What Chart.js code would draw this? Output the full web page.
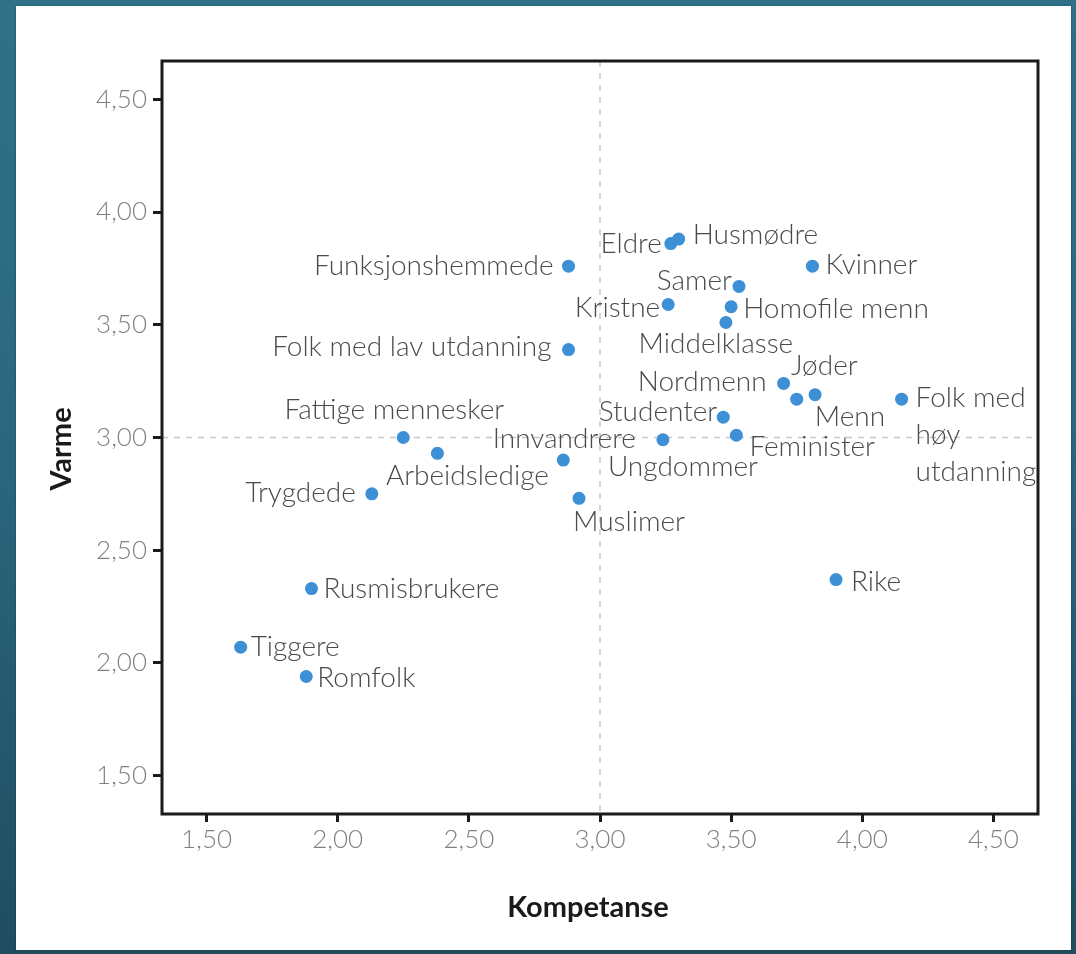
<!DOCTYPE html>
<html>
<head>
<meta charset="utf-8">
<script src="https://cdn.jsdelivr.net/npm/chart.js@4/dist/chart.umd.min.js"></script>
<style>
  html, body { margin: 0; padding: 0; }
  body {
    width: 1076px; height: 954px; overflow: hidden; position: relative;
    background: linear-gradient(to bottom, #2f7189 0%, #2a6880 45%, #1f4d61 100%);
  }
  .card {
    position: absolute; left: 16px; top: 6px; width: 1055px; height: 944px;
    background: #fff; box-shadow: 0 0 2px rgba(0,0,0,0.35);
  }
  #chart { position: absolute; left: 0; top: 0; }
</style>
</head>
<body>
<div class="card"></div>
<canvas id="chart" width="1076" height="954"></canvas>
<script>
  // Data
  const groups = [
    'Funksjonshemmede', 'Folk med lav utdanning', 'Eldre', 'Husmødre', 'Kvinner',
    'Samer', 'Kristne', 'Homofile menn', 'Middelklasse', 'Nordmenn', 'Jøder', 'Menn',
    'Folk med høy utdanning', 'Studenter', 'Feminister', 'Innvandrere', 'Ungdommer',
    'Muslimer', 'Fattige mennesker', 'Arbeidsledige', 'Trygdede', 'Rusmisbrukere',
    'Tiggere', 'Romfolk', 'Rike'
  ];
  const kompetanse = [
    2.88, 2.88, 3.27, 3.30, 3.81,
    3.53, 3.26, 3.50, 3.48, 3.70, 3.82, 3.75,
    4.15, 3.47, 3.52, 2.86, 3.24,
    2.92, 2.25, 2.38, 2.13, 1.90,
    1.63, 1.88, 3.90
  ];
  const varme = [
    3.76, 3.39, 3.86, 3.88, 3.76,
    3.67, 3.59, 3.58, 3.51, 3.24, 3.19, 3.17,
    3.17, 3.09, 3.01, 2.90, 2.99,
    2.73, 3.00, 2.93, 2.75, 2.33,
    2.07, 1.94, 2.37
  ];
  const tickValues = [1.5, 2.0, 2.5, 3.0, 3.5, 4.0, 4.5];
  const axisMin = 1.33, axisMax = 4.67;
  const refValue = 3.0;

  // Where each label sits relative to its dot
  const labelPlacement = {
    'Funksjonshemmede':       { align: 'right',  dx: -15, dy: 0 },
    'Folk med lav utdanning': { align: 'right',  dx: -17, dy: -3 },
    'Eldre':                  { align: 'right',  dx: -9,  dy: 0 },
    'Husmødre':               { align: 'left',   dx: 14,  dy: -4 },
    'Kvinner':                { align: 'left',   dx: 13,  dy: -1 },
    'Samer':                  { align: 'right',  dx: -7,  dy: -5 },
    'Kristne':                { align: 'right',  dx: -8,  dy: 3 },
    'Homofile menn':          { align: 'left',   dx: 12,  dy: 2 },
    'Middelklasse':           { align: 'center', dx: -10, dy: 21 },
    'Nordmenn':               { align: 'right',  dx: -17, dy: -1 },
    'Jøder':                  { align: 'left',   dx: -24, dy: -29 },
    'Menn':                   { align: 'left',   dx: 18,  dy: 18 },
    'Folk med høy utdanning': { align: 'left',   dx: 14,  dy: -1, lines: ['Folk med', 'høy', 'utdanning'] },
    'Studenter':              { align: 'right',  dx: -6,  dy: -5 },
    'Feminister':             { align: 'left',   dx: 13,  dy: 12 },
    'Innvandrere':            { align: 'center', dx: 1,   dy: -21 },
    'Ungdommer':              { align: 'center', dx: 20,  dy: 27 },
    'Muslimer':               { align: 'left',   dx: -6,  dy: 24 },
    'Fattige mennesker':      { align: 'center', dx: -9,  dy: -28 },
    'Arbeidsledige':          { align: 'center', dx: 30,  dy: 23 },
    'Trygdede':               { align: 'right',  dx: -16, dy: -1 },
    'Rusmisbrukere':          { align: 'left',   dx: 12,  dy: 0 },
    'Tiggere':                { align: 'left',   dx: 10,  dy: 0 },
    'Romfolk':                { align: 'left',   dx: 11,  dy: 1 },
    'Rike':                   { align: 'left',   dx: 15,  dy: 2 }
  };

  const LABEL_FONT = '300 28px Lato';
  const fmt = v => v.toFixed(2).replace('.', ',');

  // Frame, dashed reference lines and axis titles
  const framePlugin = {
    id: 'frame',
    beforeDatasetsDraw(chart) {
      const { ctx, chartArea: a, scales } = chart;
      const xr = scales.x.getPixelForValue(refValue);
      const yr = scales.y.getPixelForValue(refValue);
      ctx.save();
      ctx.strokeStyle = '#c8c8c8';
      ctx.lineWidth = 1.5;
      ctx.setLineDash([6, 6]);
      ctx.beginPath();
      ctx.moveTo(xr, a.top); ctx.lineTo(xr, a.bottom);
      ctx.moveTo(a.left, yr); ctx.lineTo(a.right, yr);
      ctx.stroke();
      ctx.setLineDash([]);
      ctx.strokeStyle = '#1a1a1a';
      ctx.lineWidth = 3;
      ctx.strokeRect(a.left, a.top, a.right - a.left, a.bottom - a.top);
      ctx.restore();
    },
    afterDraw(chart) {
      const { ctx } = chart;
      ctx.save();
      ctx.fillStyle = '#1a1a1a';
      ctx.font = '700 29px Lato';
      ctx.textAlign = 'center';
      ctx.textBaseline = 'middle';
      ctx.fillText('Kompetanse', 588, 908);
      ctx.translate(62, 449);
      ctx.rotate(-Math.PI / 2);
      ctx.fillText('Varme', 0, 0);
      ctx.restore();
    }
  };

  // Text labels next to the dots
  const labelPlugin = {
    id: 'pointLabels',
    afterDatasetsDraw(chart) {
      const { ctx } = chart;
      const meta = chart.getDatasetMeta(0);
      ctx.save();
      ctx.font = LABEL_FONT;
      ctx.fillStyle = '#4a4a4a';
      ctx.textBaseline = 'middle';
      meta.data.forEach((pt, i) => {
        const name = groups[i];
        const p = labelPlacement[name] || { align: 'left', dx: 12, dy: 0 };
        const lines = p.lines || [name];
        ctx.textAlign = p.align;
        lines.forEach((ln, j) => {
          ctx.fillText(ln, pt.x + p.dx, pt.y + p.dy + j * 37);
        });
      });
      ctx.restore();
    }
  };

  const tickOpts = {
    color: '#808080',
    font: { family: 'Lato', size: 26, weight: '300' },
    callback: v => fmt(v)
  };

  new Chart(document.getElementById('chart').getContext('2d'), {
    type: 'scatter',
    data: {
      datasets: [{
        data: kompetanse.map((x, i) => ({ x, y: varme[i] })),
        backgroundColor: '#3d8fd6',
        borderWidth: 0,
        pointRadius: 6.5,
        pointHoverRadius: 6.5
      }]
    },
    options: {
      responsive: false,
      animation: false,
      layout: { padding: { top: 61, right: 38, left: 0, bottom: 0 } },
      plugins: { legend: { display: false }, tooltip: { enabled: false } },
      scales: {
        x: {
          type: 'linear', min: axisMin, max: axisMax,
          afterBuildTicks: s => { s.ticks = tickValues.map(v => ({ value: v })); },
          afterFit: s => { s.height = 140; },
          border: { display: false },
          grid: { drawOnChartArea: false, drawTicks: true, tickLength: 8, color: '#1a1a1a', lineWidth: 3 },
          ticks: { ...tickOpts, padding: 2, maxRotation: 0 }
        },
        y: {
          type: 'linear', min: axisMin, max: axisMax,
          afterBuildTicks: s => { s.ticks = tickValues.map(v => ({ value: v })); },
          afterFit: s => { s.width = 162; },
          border: { display: false },
          grid: { drawOnChartArea: false, drawTicks: true, tickLength: 9, color: '#1a1a1a', lineWidth: 3 },
          ticks: { ...tickOpts, padding: 6 }
        }
      }
    },
    plugins: [framePlugin, labelPlugin]
  });
</script>
</body>
</html>
